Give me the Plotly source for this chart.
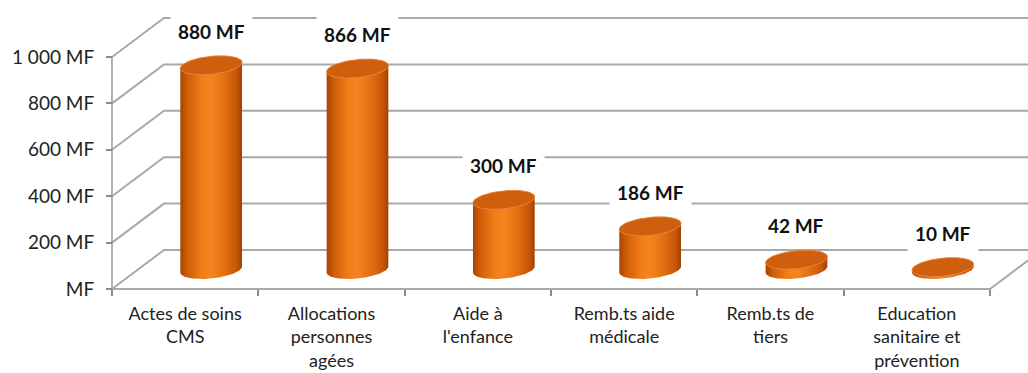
import numpy as np
import plotly.graph_objects as go

# ---- data ----
categories = [
    "Actes de soins<br>CMS",
    "Allocations<br>personnes<br>agées",
    "Aide à<br>l'enfance",
    "Remb.ts aide<br>médicale",
    "Remb.ts de<br>tiers",
    "Education<br>sanitaire et<br>prévention",
]
values = [880, 866, 300, 186, 42, 10]
value_labels = ["880 MF", "866 MF", "300 MF", "186 MF", "42 MF", "10 MF"]
y_ticks = [0, 200, 400, 600, 800, 1000]
y_tick_labels = ["MF", "200 MF", "400 MF", "600 MF", "800 MF", "1 000 MF"]

# ---- layout geometry (pixel scale of the data axes) ----
W, H = 1028, 373
PX_X = 146.33          # pixels per category
PX_Y = 0.232           # pixels per value unit
X0_PX, Y0_PX = 112, 289  # pixel position of front-left floor corner
x_range = [-0.5 - X0_PX / PX_X, -0.5 + (W - X0_PX) / PX_X]
y_range = [-(H - Y0_PX) / PX_Y, Y0_PX / PX_Y]

DEPTH_X = 52 / PX_X    # 3D depth offset of the back wall
DEPTH_Y = 39 / PX_Y
n = len(categories)

GRID = "#a9a9a9"
FONT = "Lato, 'Open Sans', Arial, sans-serif"

fig = go.Figure()

# back wall gridlines with their diagonal side-wall segments
for v in y_ticks:
    fig.add_trace(go.Scatter(
        x=[-0.5, -0.5 + DEPTH_X, x_range[1] + 1],
        y=[v, v + DEPTH_Y, v + DEPTH_Y],
        mode="lines", line=dict(color=GRID, width=2),
        hoverinfo="skip", showlegend=False))

# floor: front edge and right diagonal
fig.add_trace(go.Scatter(
    x=[-0.5, n - 0.5, n - 0.5 + DEPTH_X],
    y=[0, 0, DEPTH_Y],
    mode="lines", line=dict(color=GRID, width=2),
    hoverinfo="skip", showlegend=False))

# front vertical value axis
fig.add_trace(go.Scatter(
    x=[-0.5, -0.5], y=[0, max(y_ticks)],
    mode="lines", line=dict(color="#9a9a9a", width=1.5),
    hoverinfo="skip", showlegend=False))

# ---- cylinders ----
RA, RB = 31.0, 9.0          # ellipse semi-axes in pixels
TILT = np.deg2rad(6)        # slight tilt of the ellipses


def ellipse_pts(cx, cy, t):
    px = RA * np.cos(t) * np.cos(TILT) - RB * np.sin(t) * np.sin(TILT)
    py = RA * np.cos(t) * np.sin(TILT) + RB * np.sin(t) * np.cos(TILT)
    return cx + px / PX_X, cy + py / PX_Y


t_right = np.arctan2(-RB * np.sin(TILT), RA * np.cos(TILT))
body_scale = [
    [0.0, "#a94400"], [0.12, "#cf5e0a"], [0.35, "#f27d18"],
    [0.5, "#f58420"], [0.75, "#e06c10"], [0.92, "#c45408"], [1.0, "#a34000"],
]

for i, v in enumerate(values):
    cx = i + DEPTH_X / 2
    cy_bot = DEPTH_Y / 2
    cy_top = v + DEPTH_Y / 2
    # body: lower front arc of the base, then upper arc of the top
    t_low = np.linspace(t_right + np.pi, t_right + 2 * np.pi, 60)
    t_up = np.linspace(t_right, t_right + np.pi, 60)
    bx, by = ellipse_pts(cx, cy_bot, t_low)
    tx, ty = ellipse_pts(cx, cy_top, t_up)
    fig.add_trace(go.Scatter(
        x=np.concatenate([bx, tx]), y=np.concatenate([by, ty]),
        mode="lines", fill="toself", line=dict(width=0, color="#c45408"),
        fillgradient=dict(type="horizontal", colorscale=body_scale),
        hoverinfo="skip", showlegend=False))
    # top cap
    t_all = np.linspace(0, 2 * np.pi, 90)
    ex, ey = ellipse_pts(cx, cy_top, t_all)
    fig.add_trace(go.Scatter(
        x=ex, y=ey, mode="lines", fill="toself",
        fillcolor="#cd5f0e", line=dict(width=1, color="#e8843a"),
        hoverinfo="skip", showlegend=False))
    # value label
    fig.add_annotation(
        x=cx, y=cy_top, xref="x", yref="y", yshift=34,
        text="<b>%s</b>" % value_labels[i], showarrow=False,
        font=dict(family=FONT, size=19, color="#111111"),
        bgcolor="white", borderpad=7)

fig.update_layout(
    width=W, height=H,
    margin=dict(l=0, r=0, t=0, b=0),
    paper_bgcolor="white", plot_bgcolor="white",
    showlegend=False,
    xaxis=dict(
        range=x_range, anchor="free", position=(H - Y0_PX) / H,
        tickmode="array", tickvals=list(range(n)), ticktext=categories,
        ticks="", showgrid=False, zeroline=False, showline=False,
        tickfont=dict(family=FONT, size=18, color="#222222"),
        ticklabelstandoff=12, automargin=False,
        minor=dict(tickmode="array",
                   tickvals=[k - 0.5 for k in range(n + 1)],
                   ticks="outside", ticklen=6, tickcolor="#8c8c8c",
                   tickwidth=1.5, showgrid=False),
        fixedrange=True),
    yaxis=dict(
        range=y_range, anchor="free", position=X0_PX / W,
        tickmode="array", tickvals=y_ticks, ticktext=y_tick_labels,
        ticks="outside", ticklen=6, tickcolor="#8c8c8c", tickwidth=1.5,
        showgrid=False, zeroline=False, showline=False,
        tickfont=dict(family=FONT, size=19, color="#222222"),
        ticklabelstandoff=8, automargin=False, fixedrange=True),
)

fig.write_html("out.html")
